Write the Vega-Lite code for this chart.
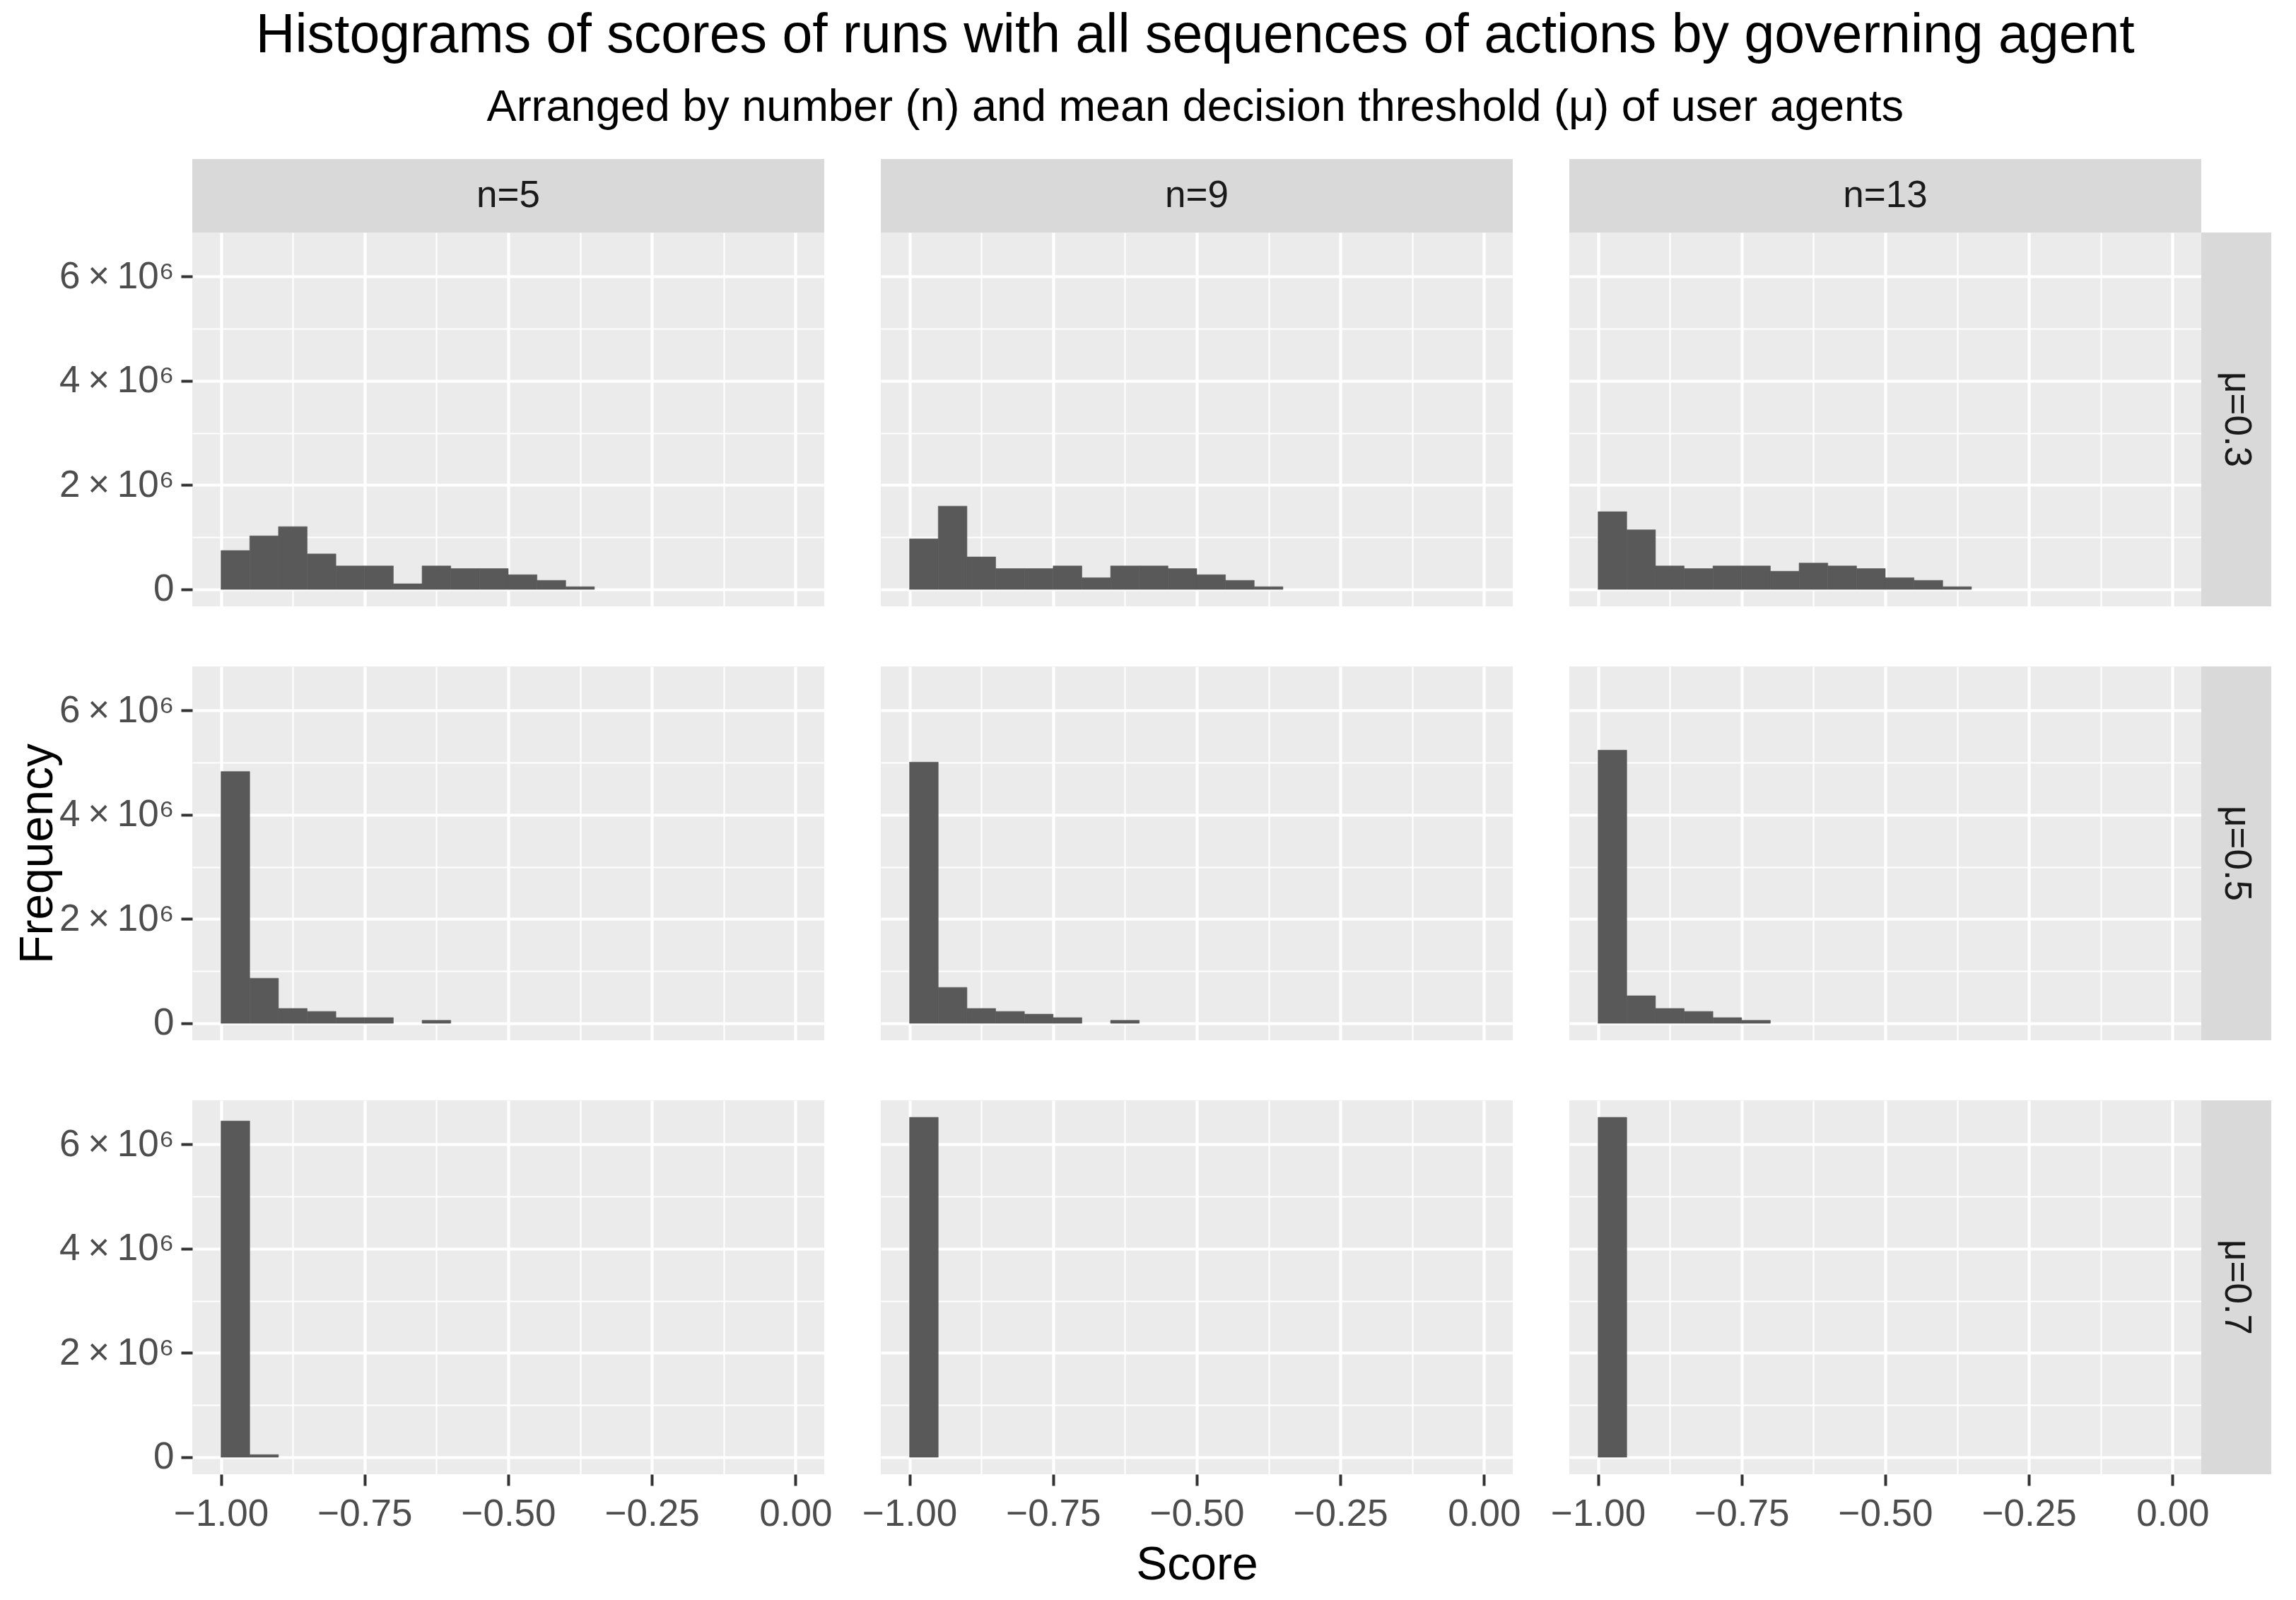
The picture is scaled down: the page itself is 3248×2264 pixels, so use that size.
{
  "$schema": "https://vega.github.io/schema/vega-lite/v6.json",
  "padding": {"left": 20, "top": 12, "right": 10, "bottom": 5},
  "background": "white",
  "title": {
    "text": "Histograms of scores of runs with all sequences of actions by governing agent",
    "subtitle": "Arranged by number (n) and mean decision threshold (μ) of user agents",
    "font": "Liberation Sans", "fontSize": 77, "fontWeight": "normal", "color": "#000000",
    "subtitleFont": "Liberation Sans", "subtitleFontSize": 63, "subtitleColor": "#000000",
    "anchor": "middle", "offset": 40, "subtitlePadding": 31, "dx": 74
  },
  "datasets": {
    "hist": [
      {"n": 5, "mu": 0.3, "x0": -1.00, "x1": -0.95, "count": 745000},
      {"n": 5, "mu": 0.3, "x0": -0.95, "x1": -0.90, "count": 1026000},
      {"n": 5, "mu": 0.3, "x0": -0.90, "x1": -0.85, "count": 1204000},
      {"n": 5, "mu": 0.3, "x0": -0.85, "x1": -0.80, "count": 679000},
      {"n": 5, "mu": 0.3, "x0": -0.80, "x1": -0.75, "count": 449000},
      {"n": 5, "mu": 0.3, "x0": -0.75, "x1": -0.70, "count": 449000},
      {"n": 5, "mu": 0.3, "x0": -0.70, "x1": -0.65, "count": 107000},
      {"n": 5, "mu": 0.3, "x0": -0.65, "x1": -0.60, "count": 449000},
      {"n": 5, "mu": 0.3, "x0": -0.60, "x1": -0.55, "count": 398000},
      {"n": 5, "mu": 0.3, "x0": -0.55, "x1": -0.50, "count": 398000},
      {"n": 5, "mu": 0.3, "x0": -0.50, "x1": -0.45, "count": 281000},
      {"n": 5, "mu": 0.3, "x0": -0.45, "x1": -0.40, "count": 173000},
      {"n": 5, "mu": 0.3, "x0": -0.40, "x1": -0.35, "count": 51000},
      {"n": 9, "mu": 0.3, "x0": -1.00, "x1": -0.95, "count": 969000},
      {"n": 9, "mu": 0.3, "x0": -0.95, "x1": -0.90, "count": 1597000},
      {"n": 9, "mu": 0.3, "x0": -0.90, "x1": -0.85, "count": 622000},
      {"n": 9, "mu": 0.3, "x0": -0.85, "x1": -0.80, "count": 398000},
      {"n": 9, "mu": 0.3, "x0": -0.80, "x1": -0.75, "count": 398000},
      {"n": 9, "mu": 0.3, "x0": -0.75, "x1": -0.70, "count": 449000},
      {"n": 9, "mu": 0.3, "x0": -0.70, "x1": -0.65, "count": 224000},
      {"n": 9, "mu": 0.3, "x0": -0.65, "x1": -0.60, "count": 449000},
      {"n": 9, "mu": 0.3, "x0": -0.60, "x1": -0.55, "count": 449000},
      {"n": 9, "mu": 0.3, "x0": -0.55, "x1": -0.50, "count": 398000},
      {"n": 9, "mu": 0.3, "x0": -0.50, "x1": -0.45, "count": 281000},
      {"n": 9, "mu": 0.3, "x0": -0.45, "x1": -0.40, "count": 173000},
      {"n": 9, "mu": 0.3, "x0": -0.40, "x1": -0.35, "count": 51000},
      {"n": 13, "mu": 0.3, "x0": -1.00, "x1": -0.95, "count": 1490000},
      {"n": 13, "mu": 0.3, "x0": -0.95, "x1": -0.90, "count": 1143000},
      {"n": 13, "mu": 0.3, "x0": -0.90, "x1": -0.85, "count": 449000},
      {"n": 13, "mu": 0.3, "x0": -0.85, "x1": -0.80, "count": 398000},
      {"n": 13, "mu": 0.3, "x0": -0.80, "x1": -0.75, "count": 449000},
      {"n": 13, "mu": 0.3, "x0": -0.75, "x1": -0.70, "count": 449000},
      {"n": 13, "mu": 0.3, "x0": -0.70, "x1": -0.65, "count": 347000},
      {"n": 13, "mu": 0.3, "x0": -0.65, "x1": -0.60, "count": 505000},
      {"n": 13, "mu": 0.3, "x0": -0.60, "x1": -0.55, "count": 449000},
      {"n": 13, "mu": 0.3, "x0": -0.55, "x1": -0.50, "count": 398000},
      {"n": 13, "mu": 0.3, "x0": -0.50, "x1": -0.45, "count": 224000},
      {"n": 13, "mu": 0.3, "x0": -0.45, "x1": -0.40, "count": 173000},
      {"n": 13, "mu": 0.3, "x0": -0.40, "x1": -0.35, "count": 51000},
      {"n": 5, "mu": 0.5, "x0": -1.00, "x1": -0.95, "count": 4830000},
      {"n": 5, "mu": 0.5, "x0": -0.95, "x1": -0.90, "count": 865000},
      {"n": 5, "mu": 0.5, "x0": -0.90, "x1": -0.85, "count": 285000},
      {"n": 5, "mu": 0.5, "x0": -0.85, "x1": -0.80, "count": 228000},
      {"n": 5, "mu": 0.5, "x0": -0.80, "x1": -0.75, "count": 109000},
      {"n": 5, "mu": 0.5, "x0": -0.75, "x1": -0.70, "count": 109000},
      {"n": 5, "mu": 0.5, "x0": -0.65, "x1": -0.60, "count": 57000},
      {"n": 9, "mu": 0.5, "x0": -1.00, "x1": -0.95, "count": 5010000},
      {"n": 9, "mu": 0.5, "x0": -0.95, "x1": -0.90, "count": 689000},
      {"n": 9, "mu": 0.5, "x0": -0.90, "x1": -0.85, "count": 285000},
      {"n": 9, "mu": 0.5, "x0": -0.85, "x1": -0.80, "count": 228000},
      {"n": 9, "mu": 0.5, "x0": -0.80, "x1": -0.75, "count": 176000},
      {"n": 9, "mu": 0.5, "x0": -0.75, "x1": -0.70, "count": 109000},
      {"n": 9, "mu": 0.5, "x0": -0.65, "x1": -0.60, "count": 57000},
      {"n": 13, "mu": 0.5, "x0": -1.00, "x1": -0.95, "count": 5240000},
      {"n": 13, "mu": 0.5, "x0": -0.95, "x1": -0.90, "count": 528000},
      {"n": 13, "mu": 0.5, "x0": -0.90, "x1": -0.85, "count": 285000},
      {"n": 13, "mu": 0.5, "x0": -0.85, "x1": -0.80, "count": 228000},
      {"n": 13, "mu": 0.5, "x0": -0.80, "x1": -0.75, "count": 109000},
      {"n": 13, "mu": 0.5, "x0": -0.75, "x1": -0.70, "count": 57000},
      {"n": 5, "mu": 0.7, "x0": -1.00, "x1": -0.95, "count": 6450000},
      {"n": 5, "mu": 0.7, "x0": -0.95, "x1": -0.90, "count": 50000},
      {"n": 9, "mu": 0.7, "x0": -1.00, "x1": -0.95, "count": 6520000},
      {"n": 13, "mu": 0.7, "x0": -1.00, "x1": -0.95, "count": 6520000}
    ]
  },
  "config": {
    "view": {"stroke": null},
    "axis": {"domain": false, "gridColor": "#FFFFFF", "labelFont": "Liberation Sans", "labelFontSize": 53, "labelColor": "#4D4D4D", "tickColor": "#333333", "tickSize": 16, "tickWidth": 4, "titleFont": "Liberation Sans", "titleFontSize": 66, "titleFontWeight": "normal", "titleColor": "#000000", "labelFlush": false, "labelOverlap": false}
  },
  "vconcat": [
    {
      "vconcat": [
        {
          "hconcat": [
            {"width": 894, "height": 104, "view": {"fill": "#D9D9D9", "stroke": null}, "data": {"values": [{"label": "n=5"}]},
             "mark": {"type": "text", "font": "Liberation Sans", "fontSize": 53, "color": "#1A1A1A"},
             "encoding": {"text": {"field": "label", "type": "nominal"},
               "y": {"datum": 3260000, "type": "quantitative", "scale": {"domain": [-326000, 6846000], "nice": false, "zero": false},
                 "axis": {"values": [3260000], "labelExpr": "'6\u2009×\u200910\u2076'", "labelOpacity": 0, "tickOpacity": 0, "grid": false, "labelPadding": 10, "title": "F", "titleOpacity": 0, "titlePadding": -4}}}},
            {"width": 894, "height": 104, "view": {"fill": "#D9D9D9", "stroke": null}, "data": {"values": [{"label": "n=9"}]},
             "mark": {"type": "text", "font": "Liberation Sans", "fontSize": 53, "color": "#1A1A1A"},
             "encoding": {"text": {"field": "label", "type": "nominal"}}},
            {"width": 894, "height": 104, "view": {"fill": "#D9D9D9", "stroke": null}, "data": {"values": [{"label": "n=13"}]},
             "mark": {"type": "text", "font": "Liberation Sans", "fontSize": 53, "color": "#1A1A1A"},
             "encoding": {"text": {"field": "label", "type": "nominal"}}}
          ],
          "spacing": 80, "bounds": "flush"
        },
        {
          "hconcat": [
            {"width": 894, "height": 529, "view": {"fill": "#EBEBEB", "stroke": null}, "data": {"name": "hist"},
             "transform": [{"filter": "datum.n == 5 && datum.mu == 0.3"}],
             "mark": {"type": "rect", "color": "#595959", "stroke": "#595959", "strokeWidth": 0.6},
             "encoding": {
               "x": {"field": "x0", "type": "quantitative", "scale": {"domain": [-1.05, 0.05], "nice": false, "zero": false},
                 "axis": {"values": [-1, -0.875, -0.75, -0.625, -0.5, -0.375, -0.25, -0.125, 0], "labels": false, "ticks": false, "title": null,
                   "gridWidth": {"condition": {"test": "abs(datum.value*4-round(datum.value*4))<0.001", "value": 4.2}, "value": 2.1}}},
               "x2": {"field": "x1"},
               "y": {"field": "count", "type": "quantitative", "scale": {"domain": [-326000, 6846000], "nice": false, "zero": false},
                 "axis": {"values": [0, 1000000, 2000000, 3000000, 4000000, 5000000, 6000000],
                   "labelExpr": "datum.value == 0 ? '0' : (datum.value % 2000000 == 0 ? (datum.value/1000000) + '\u2009×\u200910\u2076' : '')",
                   "tickOpacity": {"condition": {"test": "datum.value % 2000000 == 0", "value": 1}, "value": 0},
                   "gridWidth": {"condition": {"test": "datum.value % 2000000 == 0", "value": 4.2}, "value": 2.1},
                   "labelPadding": 10, "title": "Frequency", "titleOpacity": 0, "titlePadding": -4}},
               "y2": {"datum": 0}
             }},
            {"width": 894, "height": 529, "view": {"fill": "#EBEBEB", "stroke": null}, "data": {"name": "hist"},
             "transform": [{"filter": "datum.n == 9 && datum.mu == 0.3"}],
             "mark": {"type": "rect", "color": "#595959", "stroke": "#595959", "strokeWidth": 0.6},
             "encoding": {
               "x": {"field": "x0", "type": "quantitative", "scale": {"domain": [-1.05, 0.05], "nice": false, "zero": false},
                 "axis": {"values": [-1, -0.875, -0.75, -0.625, -0.5, -0.375, -0.25, -0.125, 0], "labels": false, "ticks": false, "title": null,
                   "gridWidth": {"condition": {"test": "abs(datum.value*4-round(datum.value*4))<0.001", "value": 4.2}, "value": 2.1}}},
               "x2": {"field": "x1"},
               "y": {"field": "count", "type": "quantitative", "scale": {"domain": [-326000, 6846000], "nice": false, "zero": false},
                 "axis": {"values": [0, 1000000, 2000000, 3000000, 4000000, 5000000, 6000000], "labels": false, "ticks": false, "title": null,
                   "gridWidth": {"condition": {"test": "datum.value % 2000000 == 0", "value": 4.2}, "value": 2.1}}},
               "y2": {"datum": 0}
             }},
            {
              "hconcat": [
                {"width": 894, "height": 529, "view": {"fill": "#EBEBEB", "stroke": null}, "data": {"name": "hist"},
                 "transform": [{"filter": "datum.n == 13 && datum.mu == 0.3"}],
                 "mark": {"type": "rect", "color": "#595959", "stroke": "#595959", "strokeWidth": 0.6},
                 "encoding": {
                   "x": {"field": "x0", "type": "quantitative", "scale": {"domain": [-1.05, 0.05], "nice": false, "zero": false},
                     "axis": {"values": [-1, -0.875, -0.75, -0.625, -0.5, -0.375, -0.25, -0.125, 0], "labels": false, "ticks": false, "title": null,
                       "gridWidth": {"condition": {"test": "abs(datum.value*4-round(datum.value*4))<0.001", "value": 4.2}, "value": 2.1}}},
                   "x2": {"field": "x1"},
                   "y": {"field": "count", "type": "quantitative", "scale": {"domain": [-326000, 6846000], "nice": false, "zero": false},
                     "axis": {"values": [0, 1000000, 2000000, 3000000, 4000000, 5000000, 6000000], "labels": false, "ticks": false, "title": null,
                       "gridWidth": {"condition": {"test": "datum.value % 2000000 == 0", "value": 4.2}, "value": 2.1}}},
                   "y2": {"datum": 0}
                 }},
                {"width": 99, "height": 529, "view": {"fill": "#D9D9D9", "stroke": null}, "data": {"values": [{"label": "μ=0.3"}]},
                 "mark": {"type": "text", "font": "Liberation Sans", "fontSize": 53, "color": "#1A1A1A", "angle": 90},
                 "encoding": {"text": {"field": "label", "type": "nominal"}}}
              ],
              "spacing": 0, "bounds": "flush"
            }
          ],
          "spacing": 80, "bounds": "flush"
        }
      ],
      "spacing": 0
    },
    {
      "hconcat": [
        {"width": 894, "height": 529, "view": {"fill": "#EBEBEB", "stroke": null}, "data": {"name": "hist"},
         "transform": [{"filter": "datum.n == 5 && datum.mu == 0.5"}],
         "mark": {"type": "rect", "color": "#595959", "stroke": "#595959", "strokeWidth": 0.6},
         "encoding": {
           "x": {"field": "x0", "type": "quantitative", "scale": {"domain": [-1.05, 0.05], "nice": false, "zero": false},
             "axis": {"values": [-1, -0.875, -0.75, -0.625, -0.5, -0.375, -0.25, -0.125, 0], "labels": false, "ticks": false, "title": null,
               "gridWidth": {"condition": {"test": "abs(datum.value*4-round(datum.value*4))<0.001", "value": 4.2}, "value": 2.1}}},
           "x2": {"field": "x1"},
           "y": {"field": "count", "type": "quantitative", "scale": {"domain": [-326000, 6846000], "nice": false, "zero": false},
             "axis": {"values": [0, 1000000, 2000000, 3000000, 4000000, 5000000, 6000000],
               "labelExpr": "datum.value == 0 ? '0' : (datum.value % 2000000 == 0 ? (datum.value/1000000) + '\u2009×\u200910\u2076' : '')",
               "tickOpacity": {"condition": {"test": "datum.value % 2000000 == 0", "value": 1}, "value": 0},
               "gridWidth": {"condition": {"test": "datum.value % 2000000 == 0", "value": 4.2}, "value": 2.1},
               "labelPadding": 10, "title": "Frequency", "titleOpacity": 1, "titlePadding": -4}},
           "y2": {"datum": 0}
         }},
        {"width": 894, "height": 529, "view": {"fill": "#EBEBEB", "stroke": null}, "data": {"name": "hist"},
         "transform": [{"filter": "datum.n == 9 && datum.mu == 0.5"}],
         "mark": {"type": "rect", "color": "#595959", "stroke": "#595959", "strokeWidth": 0.6},
         "encoding": {
           "x": {"field": "x0", "type": "quantitative", "scale": {"domain": [-1.05, 0.05], "nice": false, "zero": false},
             "axis": {"values": [-1, -0.875, -0.75, -0.625, -0.5, -0.375, -0.25, -0.125, 0], "labels": false, "ticks": false, "title": null,
               "gridWidth": {"condition": {"test": "abs(datum.value*4-round(datum.value*4))<0.001", "value": 4.2}, "value": 2.1}}},
           "x2": {"field": "x1"},
           "y": {"field": "count", "type": "quantitative", "scale": {"domain": [-326000, 6846000], "nice": false, "zero": false},
             "axis": {"values": [0, 1000000, 2000000, 3000000, 4000000, 5000000, 6000000], "labels": false, "ticks": false, "title": null,
               "gridWidth": {"condition": {"test": "datum.value % 2000000 == 0", "value": 4.2}, "value": 2.1}}},
           "y2": {"datum": 0}
         }},
        {
          "hconcat": [
            {"width": 894, "height": 529, "view": {"fill": "#EBEBEB", "stroke": null}, "data": {"name": "hist"},
             "transform": [{"filter": "datum.n == 13 && datum.mu == 0.5"}],
             "mark": {"type": "rect", "color": "#595959", "stroke": "#595959", "strokeWidth": 0.6},
             "encoding": {
               "x": {"field": "x0", "type": "quantitative", "scale": {"domain": [-1.05, 0.05], "nice": false, "zero": false},
                 "axis": {"values": [-1, -0.875, -0.75, -0.625, -0.5, -0.375, -0.25, -0.125, 0], "labels": false, "ticks": false, "title": null,
                   "gridWidth": {"condition": {"test": "abs(datum.value*4-round(datum.value*4))<0.001", "value": 4.2}, "value": 2.1}}},
               "x2": {"field": "x1"},
               "y": {"field": "count", "type": "quantitative", "scale": {"domain": [-326000, 6846000], "nice": false, "zero": false},
                 "axis": {"values": [0, 1000000, 2000000, 3000000, 4000000, 5000000, 6000000], "labels": false, "ticks": false, "title": null,
                   "gridWidth": {"condition": {"test": "datum.value % 2000000 == 0", "value": 4.2}, "value": 2.1}}},
               "y2": {"datum": 0}
             }},
            {"width": 99, "height": 529, "view": {"fill": "#D9D9D9", "stroke": null}, "data": {"values": [{"label": "μ=0.5"}]},
             "mark": {"type": "text", "font": "Liberation Sans", "fontSize": 53, "color": "#1A1A1A", "angle": 90},
             "encoding": {"text": {"field": "label", "type": "nominal"}}}
          ],
          "spacing": 0, "bounds": "flush"
        }
      ],
      "spacing": 80, "bounds": "flush"
    },
    {
      "hconcat": [
        {"width": 894, "height": 529, "view": {"fill": "#EBEBEB", "stroke": null}, "data": {"name": "hist"},
         "transform": [{"filter": "datum.n == 5 && datum.mu == 0.7"}],
         "mark": {"type": "rect", "color": "#595959", "stroke": "#595959", "strokeWidth": 0.6},
         "encoding": {
           "x": {"field": "x0", "type": "quantitative", "scale": {"domain": [-1.05, 0.05], "nice": false, "zero": false},
             "axis": {"values": [-1, -0.875, -0.75, -0.625, -0.5, -0.375, -0.25, -0.125, 0],
               "labelExpr": "abs(datum.value*4-round(datum.value*4))<0.001 ? format(datum.value, '.2f') : ''",
               "tickOpacity": {"condition": {"test": "abs(datum.value*4-round(datum.value*4))<0.001", "value": 1}, "value": 0},
               "gridWidth": {"condition": {"test": "abs(datum.value*4-round(datum.value*4))<0.001", "value": 4.2}, "value": 2.1},
               "labelPadding": 14, "title": null}},
           "x2": {"field": "x1"},
           "y": {"field": "count", "type": "quantitative", "scale": {"domain": [-326000, 6846000], "nice": false, "zero": false},
             "axis": {"values": [0, 1000000, 2000000, 3000000, 4000000, 5000000, 6000000],
               "labelExpr": "datum.value == 0 ? '0' : (datum.value % 2000000 == 0 ? (datum.value/1000000) + '\u2009×\u200910\u2076' : '')",
               "tickOpacity": {"condition": {"test": "datum.value % 2000000 == 0", "value": 1}, "value": 0},
               "gridWidth": {"condition": {"test": "datum.value % 2000000 == 0", "value": 4.2}, "value": 2.1},
               "labelPadding": 10, "title": "Frequency", "titleOpacity": 0, "titlePadding": -4}},
           "y2": {"datum": 0}
         }},
        {"width": 894, "height": 529, "view": {"fill": "#EBEBEB", "stroke": null}, "data": {"name": "hist"},
         "transform": [{"filter": "datum.n == 9 && datum.mu == 0.7"}],
         "mark": {"type": "rect", "color": "#595959", "stroke": "#595959", "strokeWidth": 0.6},
         "encoding": {
           "x": {"field": "x0", "type": "quantitative", "scale": {"domain": [-1.05, 0.05], "nice": false, "zero": false},
             "axis": {"values": [-1, -0.875, -0.75, -0.625, -0.5, -0.375, -0.25, -0.125, 0],
               "labelExpr": "abs(datum.value*4-round(datum.value*4))<0.001 ? format(datum.value, '.2f') : ''",
               "tickOpacity": {"condition": {"test": "abs(datum.value*4-round(datum.value*4))<0.001", "value": 1}, "value": 0},
               "gridWidth": {"condition": {"test": "abs(datum.value*4-round(datum.value*4))<0.001", "value": 4.2}, "value": 2.1},
               "labelPadding": 14, "title": "Score", "titlePadding": 13}},
           "x2": {"field": "x1"},
           "y": {"field": "count", "type": "quantitative", "scale": {"domain": [-326000, 6846000], "nice": false, "zero": false},
             "axis": {"values": [0, 1000000, 2000000, 3000000, 4000000, 5000000, 6000000], "labels": false, "ticks": false, "title": null,
               "gridWidth": {"condition": {"test": "datum.value % 2000000 == 0", "value": 4.2}, "value": 2.1}}},
           "y2": {"datum": 0}
         }},
        {
          "hconcat": [
            {"width": 894, "height": 529, "view": {"fill": "#EBEBEB", "stroke": null}, "data": {"name": "hist"},
             "transform": [{"filter": "datum.n == 13 && datum.mu == 0.7"}],
             "mark": {"type": "rect", "color": "#595959", "stroke": "#595959", "strokeWidth": 0.6},
             "encoding": {
               "x": {"field": "x0", "type": "quantitative", "scale": {"domain": [-1.05, 0.05], "nice": false, "zero": false},
                 "axis": {"values": [-1, -0.875, -0.75, -0.625, -0.5, -0.375, -0.25, -0.125, 0],
                   "labelExpr": "abs(datum.value*4-round(datum.value*4))<0.001 ? format(datum.value, '.2f') : ''",
                   "tickOpacity": {"condition": {"test": "abs(datum.value*4-round(datum.value*4))<0.001", "value": 1}, "value": 0},
                   "gridWidth": {"condition": {"test": "abs(datum.value*4-round(datum.value*4))<0.001", "value": 4.2}, "value": 2.1},
                   "labelPadding": 14, "title": null}},
               "x2": {"field": "x1"},
               "y": {"field": "count", "type": "quantitative", "scale": {"domain": [-326000, 6846000], "nice": false, "zero": false},
                 "axis": {"values": [0, 1000000, 2000000, 3000000, 4000000, 5000000, 6000000], "labels": false, "ticks": false, "title": null,
                   "gridWidth": {"condition": {"test": "datum.value % 2000000 == 0", "value": 4.2}, "value": 2.1}}},
               "y2": {"datum": 0}
             }},
            {"width": 99, "height": 529, "view": {"fill": "#D9D9D9", "stroke": null}, "data": {"values": [{"label": "μ=0.7"}]},
             "mark": {"type": "text", "font": "Liberation Sans", "fontSize": 53, "color": "#1A1A1A", "angle": 90},
             "encoding": {"text": {"field": "label", "type": "nominal"}}}
          ],
          "spacing": 0, "bounds": "flush"
        }
      ],
      "spacing": 80, "bounds": "flush"
    }
  ],
  "spacing": 82
}
